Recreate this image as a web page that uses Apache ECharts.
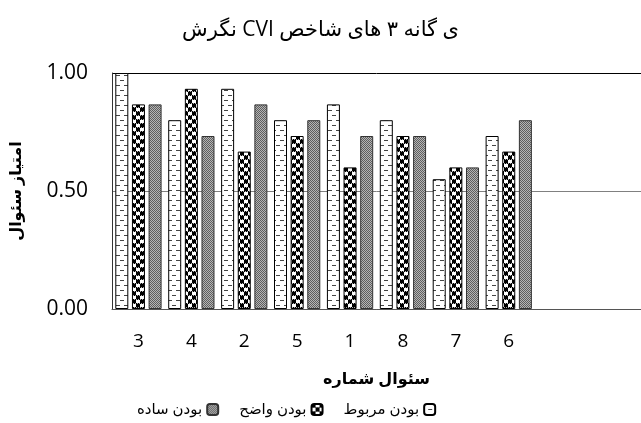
<!DOCTYPE html>
<html><head><meta charset="utf-8">
<script src="https://cdn.jsdelivr.net/npm/echarts@6/dist/echarts.min.js"></script>
<style>html,body{margin:0;padding:0;background:#fff}#c{width:641px;height:423px}</style>
</head><body><div id="c"></div>
<script>
// ---- data ----
const titleText = 'نگرش CVI ی گانه ۳ های شاخص';
const xAxisTitle = 'سئوال شماره';
const yAxisTitle = 'امتیاز سئوال';
const categories = ['3', '4', '2', '5', '1', '8', '7', '6', ' ', '  '];
const seriesNames = ['بودن مربوط', 'بودن واضح', 'بودن ساده'];
const relevance = [1.00, 0.80, 0.933, 0.80, 0.867, 0.80, 0.55, 0.733];
const clarity   = [0.867, 0.933, 0.667, 0.733, 0.60, 0.733, 0.60, 0.667];
const simplicity= [0.867, 0.733, 0.867, 0.80, 0.733, 0.733, 0.60, 0.80];
const yTicks = [0, 0.5, 1.0];

// ---- patterns ----
function makeCanvas(w, h, draw) {
  const c = document.createElement('canvas'); c.width = w; c.height = h;
  const g = c.getContext('2d'); draw(g); return c;
}
const pat1 = makeCanvas(8, 10, g => {
  g.fillStyle = '#fff'; g.fillRect(0, 0, 8, 10);
  g.fillStyle = '#444';
  g.fillRect(0, 0, 4, 1);
  g.fillRect(4, 5, 4, 1);
});
const pat2 = makeCanvas(8, 8, g => {
  g.fillStyle = '#fff'; g.fillRect(0, 0, 8, 8);
  g.fillStyle = '#000';
  g.fillRect(0, 0, 4, 3);
  g.fillRect(4, 4, 4, 3);
  for (let x = 0; x < 8; x++) {
    g.fillStyle = (x % 2) ? '#000' : '#aaa';
    g.fillRect(x, 3, 1, 1);
    g.fillStyle = (x % 2) ? '#aaa' : '#000';
    g.fillRect(x, 7, 1, 1);
  }
});
const pat3 = makeCanvas(2, 2, g => {
  g.fillStyle = '#b5b5b5'; g.fillRect(0, 0, 2, 2);
  g.fillStyle = '#5e5e5e'; g.fillRect(0, 0, 1, 1); g.fillRect(1, 1, 1, 1);
});
const patterns = [pat1, pat2, pat3];
const borders = ['#000', '#000', '#333'];
const values = [relevance, clarity, simplicity];

const FONT = '"Open Sans", "DejaVu Sans", sans-serif';
const chart = echarts.init(document.getElementById('c'), null, {renderer: 'canvas'});
chart.setOption({
  animation: false,
  backgroundColor: '#fff',
  title: {
    text: titleText, left: 'center', top: 15,
    textStyle: {fontFamily: FONT, fontSize: 21, fontWeight: 'normal', color: '#000'}
  },
  legend: {
    data: [seriesNames[2], seriesNames[1], seriesNames[0]],
    left: 132, top: 397, align: 'right', itemGap: 20,
    itemWidth: 11, itemHeight: 11,
    textStyle: {fontFamily: FONT, fontSize: 15, color: '#000'}
  },
  grid: {left: 112, top: 73, width: 540, bottom: 114, containLabel: false},
  xAxis: {
    type: 'category', data: categories,
    name: xAxisTitle, nameLocation: 'middle', nameGap: 62,
    nameTextStyle: {fontFamily: FONT, fontSize: 16, fontWeight: 'bold', color: '#000'},
    axisLine: {show: true, lineStyle: {color: '#555', width: 1}},
    axisTick: {show: false},
    axisLabel: {fontFamily: FONT, fontSize: 19, color: '#000', margin: 23}
  },
  yAxis: {
    type: 'value', min: yTicks[0], max: yTicks[yTicks.length - 1], interval: 0.5,
    name: yAxisTitle, nameLocation: 'middle', nameGap: 88, nameRotate: 90,
    nameTextStyle: {fontFamily: FONT, fontSize: 16, fontWeight: 'bold', color: '#000'},
    axisLine: {show: true, lineStyle: {color: '#333'}},
    axisTick: {show: false},
    axisLabel: {fontFamily: FONT, fontSize: 21, color: '#000', margin: 24,
      formatter: v => v.toFixed(2)},
    splitLine: {show: true, lineStyle: {color: ['#555', '#808080', '#000'], width: 1}}
  },
  series: values.map((vals, i) => ({
    name: seriesNames[i], type: 'bar', data: vals,
    barWidth: 13, barGap: '28%',
    itemStyle: {color: {image: patterns[i], repeat: 'repeat'}, borderColor: borders[i], borderWidth: 1}
  }))
});
</script></body></html>
